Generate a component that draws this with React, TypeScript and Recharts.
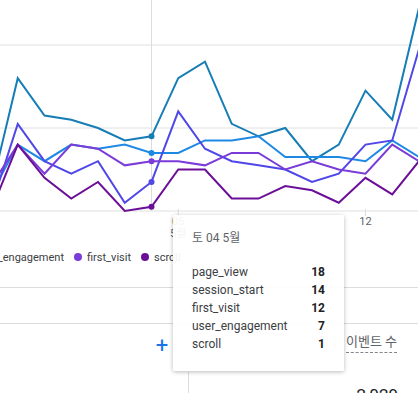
import React from "react";
import { LineChart, Line, XAxis, YAxis, CartesianGrid, ReferenceLine } from "recharts";

// daily event counts, 28 Apr - 14 May 2024
const days = [
  "04-28", "04-29", "04-30", "05-01", "05-02", "05-03", "05-04", "05-05", "05-06",
  "05-07", "05-08", "05-09", "05-10", "05-11", "05-12", "05-13", "05-14",
];
const pageView = [5, 32, 23, 22, 20, 17, 18, 32, 36, 21, 18, 20, 12, 16, 29, 22, 49];
const sessionStart = [4, 16, 12, 16, 15, 16, 14, 14, 17, 17, 18, 13, 13, 13, 12, 17, 13];
const userEngagement = [1, 21, 12, 9, 12, 2, 7, 24, 15, 12, 11, 10, 7, 9, 16, 17, 39];
const firstVisit = [6, 16, 9, 16, 15, 11, 12, 12, 11, 14, 14, 10, 12, 10, 9, 16, 12];
const scroll = [0, 16, 8, 3, 7, 0, 1, 10, 10, 3, 3, 6, 5, 2, 8, 4, 12];

const seriesNames = ["page_view", "session_start", "user_engagement", "first_visit", "scroll"];
const seriesColors = ["#167db5", "#1e88e5", "#4f47e8", "#7a3bd8", "#6b0f99"];
const seriesValues = [pageView, sessionStart, userEngagement, firstVisit, scroll];

const yTicks = [0, 20, 40, 60];
const tickDays = ["05-05", "05-12"];
const tickTexts = [["05", "5월"], ["12"]];
const weekdays = ["일", "월", "화", "수", "목", "금", "토"];
const YEAR = 2024;
const hoverIndex = 6; // the hovered day (Sat 4 May)

const data = days.map((day, i) => {
  const row: Record<string, any> = { day };
  seriesNames.forEach((name, s) => {
    row[name] = seriesValues[s][i];
  });
  return row;
});

const FONT = "Roboto, 'Noto Sans CJK KR', sans-serif";

const DayTick = (props: any) => {
  const { x, y, payload } = props;
  const k = tickDays.indexOf(payload.value);
  if (k < 0) return null;
  return (
    <g>
      <line x1={x} x2={x} y1={y - 2} y2={y + 5} stroke="#dadce0" />
      {tickTexts[k].map((t, j) => (
        <text key={t} x={x} y={y + 14 + j * 12} textAnchor="middle" fontSize={11} fill="#5f6368" fontFamily={FONT}>
          {t}
        </text>
      ))}
    </g>
  );
};

// marker only on the hovered day
const hoverDot = (color: string) => (props: any) => {
  const { cx, cy, index } = props;
  if (index !== hoverIndex) return <g key={`d${index}`} />;
  return <circle key={`d${index}`} cx={cx} cy={cy} r={3} fill={color} />;
};

const HoverCard = () => {
  const [m, d] = days[hoverIndex].split("-").map(Number);
  const wd = weekdays[new Date(YEAR, m - 1, d).getDay()];
  const rows = seriesNames
    .map((name, s) => ({ name, value: seriesValues[s][hoverIndex] }))
    .sort((a, b) => b.value - a.value);
  return (
    <div
      style={{
        position: "absolute",
        left: 173,
        top: 215,
        width: 171,
        boxSizing: "border-box",
        padding: "14px 19px 18px",
        background: "rgba(255,255,255,0.93)",
        boxShadow: "0 1px 4px rgba(0,0,0,0.28)",
        borderRadius: 2,
        zIndex: 10,
      }}
    >
      <div style={{ fontSize: 12, lineHeight: "18px", color: "#5f6368" }}>
        {`${wd} ${String(d).padStart(2, "0")} ${m}월`}
      </div>
      <div style={{ marginTop: 16 }}>
        {rows.map((r) => (
          <div
            key={r.name}
            style={{ display: "flex", justifyContent: "space-between", fontSize: 12, lineHeight: "18px", color: "#3c4043" }}
          >
            <span>{r.name}</span>
            <span style={{ fontWeight: 700, color: "#202124" }}>{r.value}</span>
          </div>
        ))}
      </div>
    </div>
  );
};

const LegendItem = ({ i }: { i: number }) => (
  <div style={{ display: "flex", alignItems: "center", marginLeft: 10 }}>
    <span style={{ width: 8, height: 8, borderRadius: 4, background: seriesColors[i], marginRight: 5 }} />
    <span>{seriesNames[i]}</span>
  </div>
);

const legendRow: React.CSSProperties = {
  position: "absolute",
  top: 249,
  height: 16,
  width: 500,
  display: "flex",
  alignItems: "center",
  fontSize: 11,
  color: "#3c4043",
  whiteSpace: "nowrap",
  zIndex: 1,
};

export default function App() {
  return (
    <div
      style={{
        position: "absolute",
        left: 0,
        top: 0,
        width: 418,
        height: 393,
        overflow: "hidden",
        background: "#fff",
        fontFamily: FONT,
      }}
    >
      <div style={{ position: "absolute", left: -9, top: -38, zIndex: 2 }}>
        <LineChart width={428} height={279} data={data} margin={{ top: 0, right: 0, bottom: 0, left: 0 }}>
          <CartesianGrid vertical={false} stroke="#e0e0e0" />
          <XAxis
            dataKey="day"
            height={30}
            axisLine={false}
            tickLine={false}
            tickSize={0}
            tickMargin={0}
            interval={0}
            tick={(p: any) => <DayTick {...p} />}
          />
          <YAxis hide domain={[0, 60]} ticks={yTicks} />
          <ReferenceLine x={days[hoverIndex]} stroke="#dadce0" strokeWidth={1} />
          {seriesNames.map((name, s) => (
            <Line
              key={name}
              type="linear"
              dataKey={name}
              name={name}
              stroke={seriesColors[s]}
              strokeWidth={2}
              dot={hoverDot(seriesColors[s])}
              activeDot={false}
              isAnimationActive={false}
            />
          ))}
        </LineChart>
      </div>

      {/* legend, first items run off the left edge */}
      <div style={{ ...legendRow, left: 64 - 500, justifyContent: "flex-end" }}>
        {[0, 1, 2].map((i) => (
          <LegendItem key={i} i={i} />
        ))}
      </div>
      <div style={{ ...legendRow, left: 64 }}>
        {[3, 4].map((i) => (
          <LegendItem key={i} i={i} />
        ))}
      </div>

      <div style={{ position: "absolute", left: 0, top: 287, width: 418, height: 1, background: "#dadce0" }} />
      <div style={{ position: "absolute", left: 0, top: 323, width: 418, height: 1, background: "#dadce0" }} />

      <div style={{ position: "absolute", left: 154, top: 334, width: 16, textAlign: "center", fontSize: 22, lineHeight: "24px", color: "#1a73e8" }}>
        +
      </div>
      <div style={{ position: "absolute", left: 329, top: 334, fontSize: 13, lineHeight: "18px", color: "#bdc1c6" }}>↓</div>
      <div
        style={{
          position: "absolute",
          left: 346,
          top: 333,
          fontSize: 13,
          lineHeight: "18px",
          color: "#5f6368",
          borderBottom: "1px dashed #80868b",
          paddingBottom: 1,
        }}
      >
        이벤트 수
      </div>
      <div style={{ position: "absolute", left: 188, top: 372, width: 1, height: 30, background: "#dadce0" }} />
      <div style={{ position: "absolute", right: 20, top: 385, fontSize: 17, lineHeight: "20px", color: "#202124" }}>2,029</div>

      <HoverCard />
    </div>
  );
}
